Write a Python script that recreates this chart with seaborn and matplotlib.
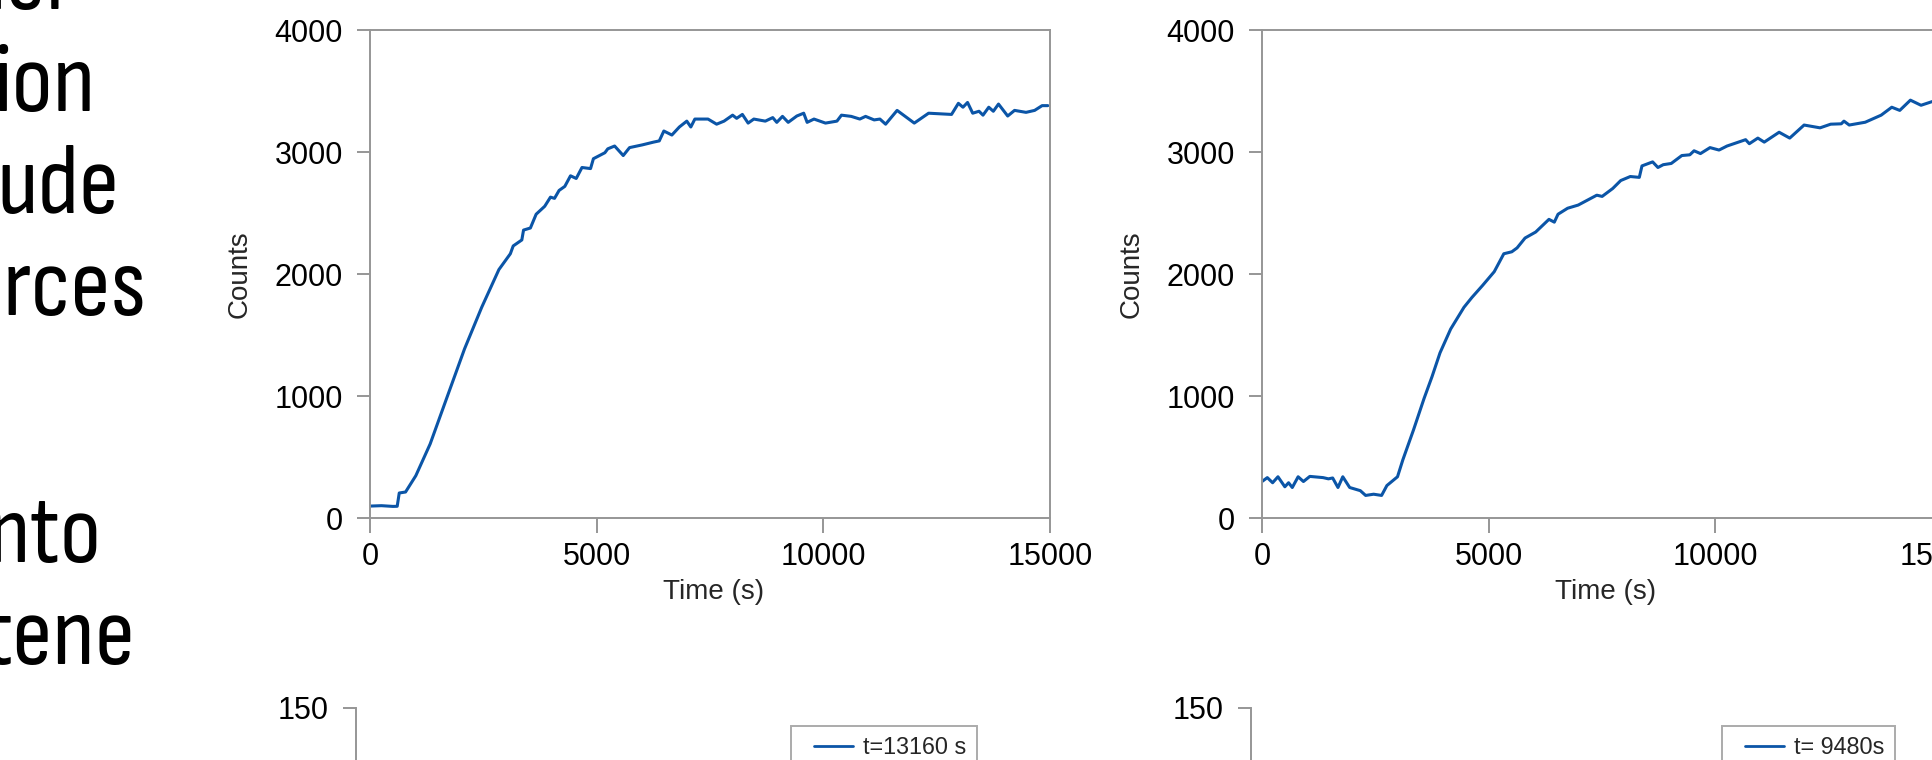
import matplotlib
matplotlib.use("Agg")
import matplotlib.pyplot as plt
from matplotlib import font_manager
from matplotlib.font_manager import FontProperties
from matplotlib.textpath import TextPath
from matplotlib.lines import Line2D
from matplotlib.legend_handler import HandlerLine2D
import seaborn as sns
import pandas as pd

# ---- data -------------------------------------------------------------
time_a = [25, 253, 505, 600, 645, 784, 1011, 1327, 1706, 2085, 2464, 2843, 3096,
          3159, 3349, 3387, 3538, 3665, 3854, 3981, 4070, 4171, 4297, 4423, 4549,
          4676, 4865, 4928, 5181, 5245, 5396, 5586, 5725, 6003, 6255, 6381, 6482,
          6659, 6824, 6988, 7077, 7166, 7456, 7646, 7810, 7999, 8088, 8214, 8341,
          8467, 8720, 8884, 8973, 9099, 9225, 9415, 9567, 9643, 9794, 10047, 10300,
          10400, 10615, 10805, 10932, 11121, 11248, 11374, 11627, 12006, 12322,
          12828, 12979, 13080, 13181, 13295, 13434, 13522, 13649, 13750, 13864,
          14067, 14218, 14471, 14661, 14826, 14952]
counts_a = [98, 101, 95, 96, 205, 213, 347, 607, 997, 1386, 1727, 2036, 2166,
            2230, 2279, 2360, 2377, 2490, 2555, 2630, 2620, 2685, 2718, 2805, 2783,
            2873, 2864, 2945, 2994, 3026, 3049, 2971, 3036, 3058, 3081, 3091, 3172,
            3139, 3205, 3253, 3205, 3270, 3270, 3228, 3253, 3302, 3276, 3308, 3237,
            3270, 3253, 3282, 3243, 3292, 3243, 3295, 3318, 3243, 3270, 3237, 3253,
            3302, 3292, 3270, 3292, 3263, 3270, 3228, 3341, 3237, 3318,
            3308, 3399, 3367, 3406, 3318, 3334, 3302, 3367, 3334, 3393,
            3295, 3341, 3325, 3341, 3380, 3380]

time_b = [0, 117, 234, 352, 504, 586, 668, 797, 914, 1055, 1348, 1465, 1559, 1676,
          1782, 1934, 2169, 2286, 2462, 2638, 2755, 2989, 3107, 3341, 3576, 3751,
          3927, 4162, 4455, 4631, 4865, 5123, 5334, 5510, 5627, 5803, 6037, 6330,
          6448, 6530, 6741, 6975, 7385, 7503, 7737, 7913, 8124, 8323, 8382, 8617,
          8734, 8851, 9027, 9261, 9437, 9531, 9672, 9883, 10082, 10258, 10668,
          10750, 10938, 11079, 11407, 11641, 11958, 12310, 12544, 12778, 12837,
          12954, 13306, 13658, 13892, 14068, 14303, 14537, 14806]
counts_b = [299, 331, 289, 338, 256, 289, 250, 338, 299, 341, 331, 321, 328, 250,
            338, 250, 224, 185, 195, 185, 266, 338, 477, 721, 981, 1159,
            1354, 1549, 1727, 1808, 1906, 2019, 2166, 2182, 2214, 2295, 2344, 2448,
            2425, 2490, 2539, 2565, 2646, 2636, 2701, 2766, 2799, 2792, 2886, 2919,
            2873, 2896, 2906, 2971, 2977, 3010, 2987, 3036, 3016, 3049, 3101,
            3068, 3114, 3081, 3162, 3114, 3221, 3198, 3228, 3231, 3253,
            3221, 3244, 3302, 3367, 3341, 3425, 3383, 3416]

time_ticks = [0, 5000, 10000, 15000]
count_ticks = [0, 1000, 2000, 3000, 4000]
legend_labels = ["t=13160 s", "t= 9480s"]
side_text = ["ner", "ion", "ude", "rces", "nto", "tene"]

# ---- style ------------------------------------------------------------
sns.set_style("ticks")
fonts = font_manager.fontManager.ttflist
available = {f.name for f in fonts}
body_font = "Liberation Sans" if "Liberation Sans" in available else "DejaVu Sans"
plt.rcParams["font.family"] = [body_font, "DejaVu Sans"]

GRAY = "#969696"
BLUE = "#0b55a7"
W, H = 1933, 760

plt.rcParams.update({
    "axes.edgecolor": GRAY,
    "axes.linewidth": 1.4,
    "xtick.color": GRAY,
    "ytick.color": GRAY,
    "xtick.labelcolor": "black",
    "ytick.labelcolor": "black",
    "xtick.major.size": 11,
    "ytick.major.size": 9.5,
    "xtick.major.width": 1.4,
    "ytick.major.width": 1.4,
    "xtick.major.pad": 6.5,
    "ytick.major.pad": 10,
    "xtick.labelsize": 22,
    "ytick.labelsize": 22,
    "axes.labelsize": 20,
})

fig = plt.figure(figsize=(W / 100, H / 100), dpi=100)


def px_axes(left, top, width, height):
    return fig.add_axes([left / W, (H - top - height) / H, width / W, height / H])


def kinetic_panel(ax, t, c):
    df = pd.DataFrame({"Time (s)": t, "Counts": c})
    sns.lineplot(data=df, x="Time (s)", y="Counts", ax=ax, color=BLUE,
                 linewidth=2.2, estimator=None, sort=False)
    ax.set_xlim(0, 15000)
    ax.set_ylim(0, 4000)
    ax.set_xticks(time_ticks)
    ax.set_yticks(count_ticks)
    ax.yaxis.set_label_coords(-0.172, 0.5)
    ax.xaxis.set_label_coords(0.505, -0.125)
    for s in ax.spines.values():
        s.set_visible(True)


ax1 = px_axes(370, 30, 680, 488)
kinetic_panel(ax1, time_a, counts_a)
ax2 = px_axes(1262, 30, 680, 488)
kinetic_panel(ax2, time_b, counts_b)

# lower panels (only their upper edge lies within the frame)
for left, legend_x, label in [(356, 790.7, legend_labels[0]),
                              (1251, 1721.7, legend_labels[1])]:
    ax = px_axes(left, 707.5, 680, 488)
    ax.set_ylim(0, 150)
    ax.set_yticks([0, 50, 100, 150])
    ax.set_xticks([])
    ax.spines["top"].set_visible(False)
    ax.spines["right"].set_visible(False)
    handle = Line2D([], [], color=BLUE, linewidth=2.0, label=label)
    leg = ax.legend(handles=[handle], loc="upper left",
                    bbox_to_anchor=(legend_x / W, (H - 725.7) / H),
                    bbox_transform=fig.transFigure, borderaxespad=0,
                    fontsize=16.8, frameon=True, fancybox=False,
                    handlelength=2.2, handletextpad=0.45, borderpad=0.45,
                    handler_map={handle: HandlerLine2D(xpad=0.55)})
    leg.get_frame().set_edgecolor(GRAY)
    leg.get_frame().set_linewidth(1.4)


# ---- slide text running in from the left margin -----------------------
def is_regular(f):
    w = f.weight if isinstance(f.weight, int) else {
        "normal": 400, "regular": 400, "book": 400}.get(str(f.weight).lower(), 0)
    return f.style == "normal" and w == 400


def ink(word, prop, size):
    return TextPath((0, 0), word, size=size, prop=prop).get_extents()


X_HEIGHT = 49.0        # px
ION_WIDTH = 90.0       # px of ink
target_ratio = ION_WIDTH / X_HEIGHT

faces = [FontProperties(family=body_font)]
seen = set()
for f in fonts:
    narrowish = (str(f.stretch) in ("condensed", "semi-condensed", "extra-condensed")
                 or "Narrow" in f.name or "Condensed" in f.name)
    if narrowish and "Sans" in f.name and is_regular(f) and f.fname not in seen:
        seen.add(f.fname)
        faces.append(FontProperties(fname=f.fname))


def ratio(prop):
    return ink("ion", prop, 100).width / ink("x", prop, 100).height


side_props = min(faces, key=lambda p: abs(ratio(p) - target_ratio))
xh = ink("x", side_props, 100).height / 100.0
wion = ink("ion", side_props, 100).width / 100.0
size_px = min(X_HEIGHT / xh, (ION_WIDTH + 2) / wion)
size_pt = size_px * 72.0 / 100.0

baselines = [9.5, 111.5, 213, 315, 562, 664]
ink_right = [73, 90, 115, 143, 97, 130]
for word, yb, xr in zip(side_text, baselines, ink_right):
    right = ink(word, side_props, size_px).x1
    fig.text((xr - right) / W, (H - yb) / H, word, ha="left", va="baseline",
             fontproperties=side_props, fontsize=size_pt, color="black")

fig.savefig("out.png", dpi=100)
